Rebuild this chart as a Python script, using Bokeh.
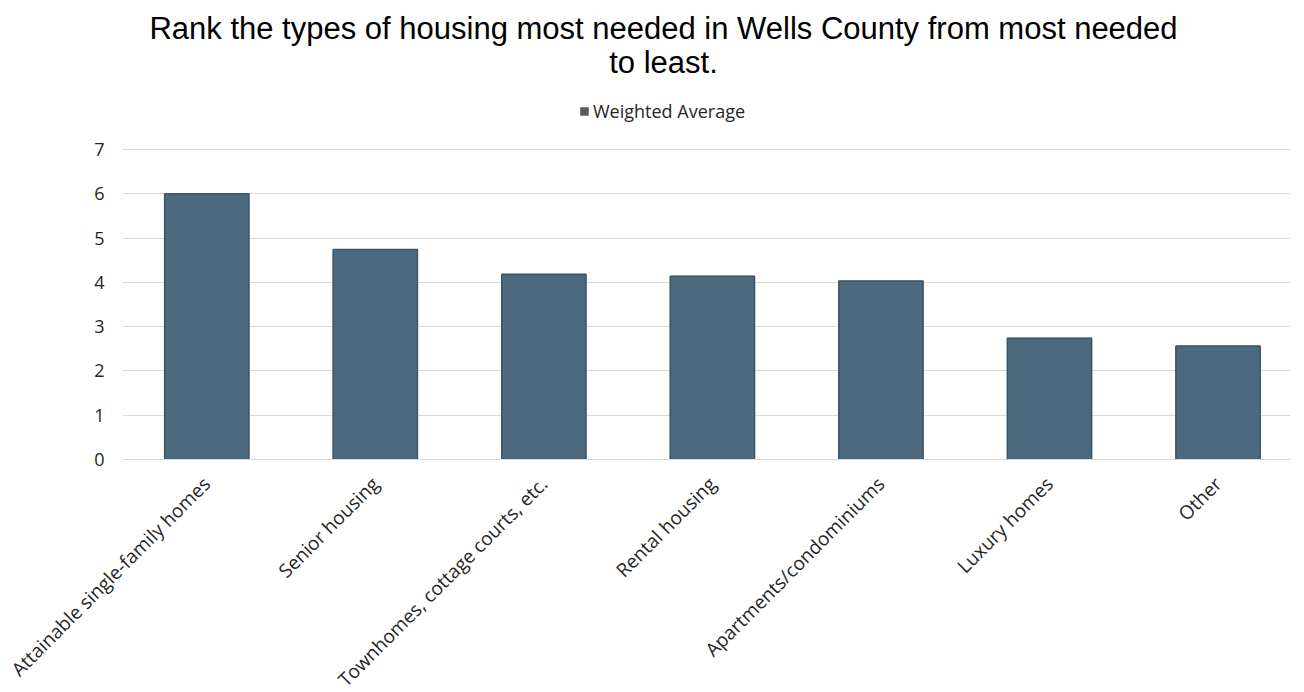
import math
from bokeh.plotting import figure
from bokeh.models import (ColumnDataSource, Range1d, FixedTicker, Label, Legend, LegendItem)
from bokeh.embed import file_html
from bokeh.resources import INLINE

categories = ["Attainable single-family homes", "Senior housing", "Townhomes, cottage courts, etc.",
              "Rental housing", "Apartments/condominiums", "Luxury homes", "Other"]
weighted_average = [6.0, 4.74, 4.18, 4.14, 4.03, 2.74, 2.56]
y_ticks = [0, 1, 2, 3, 4, 5, 6, 7]

title_line1 = "Rank the types of housing most needed in Wells County from most needed"
title_line2 = "to least."
series_name = "Weighted Average"

BAR = "#4b6a7f"
LABEL_FONT = "Open Sans"

FRAME_H = 459
PX_PER_UNIT = 44.29

xs = list(range(len(categories)))
src = ColumnDataSource(dict(x=xs, top=weighted_average, cat=categories))

p = figure(frame_width=1168, frame_height=FRAME_H, output_backend="svg", toolbar_location=None,
           x_range=Range1d(-0.5, len(categories) - 0.57), y_range=Range1d(0, FRAME_H / PX_PER_UNIT),
           min_border_left=122, min_border_right=14, min_border_top=0, min_border_bottom=233)
p.outline_line_color = None
p.background_fill_color = "white"
p.border_fill_color = "white"

# legend swatch proxy: drawn first, completely covered by the real bars
proxy = p.vbar(x="x", top="top", width=0.5, source=src,
               fill_color="#5a5a5a", line_color="#5a5a5a", line_width=0.5)

bars = p.vbar(x="x", top="top", width=0.5, source=src, fill_color=BAR,
              line_color="#3e5566", line_width=1.5)

p.xaxis.ticker = FixedTicker(ticks=xs)
p.xaxis.major_label_overrides = {i: c for i, c in enumerate(categories)}
p.xaxis.major_label_orientation = math.pi / 4
p.xaxis.major_tick_line_color = None
p.xaxis.minor_tick_line_color = None
p.xaxis.axis_line_color = "#d9d9d9"
p.xaxis.axis_line_width = 1
p.xaxis.major_label_text_font = LABEL_FONT
p.xaxis.major_label_text_font_size = "19px"
p.xaxis.major_label_text_color = "#262626"
p.xaxis.major_label_standoff = 15
p.xgrid.grid_line_color = None

p.yaxis.ticker = FixedTicker(ticks=y_ticks)
p.yaxis.axis_line_color = None
p.yaxis.major_tick_line_color = None
p.yaxis.minor_tick_line_color = None
p.yaxis.major_label_text_font = LABEL_FONT
p.yaxis.major_label_text_font_size = "18px"
p.yaxis.major_label_text_color = "#262626"
p.yaxis.major_label_standoff = 12
p.ygrid.grid_line_color = "#d9d9d9"
p.ygrid.grid_line_width = 1

legend = Legend(items=[LegendItem(label=series_name, renderers=[proxy])],
                orientation="horizontal", location=(457, 336),
                border_line_color=None, background_fill_alpha=0,
                label_text_font=LABEL_FONT, label_text_font_size="18px",
                label_text_color="#262626", glyph_width=10, glyph_height=10,
                label_standoff=4, padding=2, margin=0)
p.add_layout(legend, "center")

for txt, ytop in [(title_line1, 28), (title_line2, 62)]:
    p.add_layout(Label(x=541, y=FRAME_H - ytop, x_units="screen", y_units="screen",
                       text=txt, text_align="center", text_baseline="middle",
                       text_font="Liberation Sans", text_font_size="31px",
                       text_color="#000000"))

open("out.html", "w").write(file_html(p, INLINE))
